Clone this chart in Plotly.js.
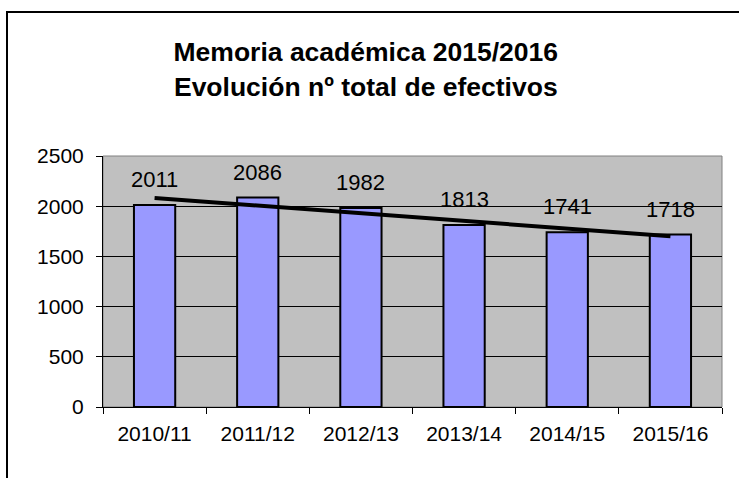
<!DOCTYPE html>
<html>
<head>
<meta charset="utf-8">
<script src="https://cdn.plot.ly/plotly-3.0.1.min.js"></script>
<style>
html,body{margin:0;padding:0;background:#fff;overflow:hidden;}
#wrap{position:relative;width:739px;height:478px;}
#frame{position:absolute;left:6px;top:11px;width:760px;height:500px;border-left:2px solid #000;border-top:2px solid #000;pointer-events:none;}
</style>
</head>
<body>
<div id="wrap">
<div id="chart" style="width:739px;height:478px;"></div>
<div id="frame"></div>
</div>
<script>
const categories = ["2010/11", "2011/12", "2012/13", "2013/14", "2014/15", "2015/16"];
const values = [2011, 2086, 1982, 1813, 1741, 1718];
const yTicks = [0, 500, 1000, 1500, 2000, 2500];

// linear trendline (least squares) over category index
const n = values.length;
const xs = values.map((_, i) => i);
const mx = xs.reduce((a, b) => a + b, 0) / n;
const my = values.reduce((a, b) => a + b, 0) / n;
let num = 0, den = 0;
xs.forEach((x, i) => { num += (x - mx) * (values[i] - my); den += (x - mx) * (x - mx); });
const slope = num / den;
const intercept = my - slope * mx;
const trend = xs.map(x => intercept + slope * x);

const FONT = "Liberation Sans, Arial, sans-serif";

const traces = [
  {
    type: "bar",
    x: categories,
    y: values,
    width: 0.4,
    marker: { color: "#9999FF", line: { color: "#000000", width: 2 } },
    hoverinfo: "x+y",
    showlegend: false
  },
  {
    type: "scatter",
    mode: "lines",
    x: categories,
    y: trend,
    line: { color: "#000000", width: 4 },
    hoverinfo: "skip",
    showlegend: false
  }
];

const annotations = categories.map((c, i) => ({
  x: c, y: values[i], xref: "x", yref: "y",
  text: String(values[i]),
  showarrow: false,
  yanchor: "bottom",
  yshift: 11,
  font: { family: FONT, size: 22, color: "#000" }
}));

const shapes = [
  { type: "rect", xref: "paper", yref: "paper", x0: 0, x1: 1, y0: 0, y1: 1, line: { color: "#808080", width: 1 }, layer: "below" }
];

const layout = {
  width: 739,
  height: 478,
  margin: { l: 103, r: 17, t: 156, b: 71 },
  paper_bgcolor: "#ffffff",
  plot_bgcolor: "#C0C0C0",
  title: {
    text: "<b>Memoria académica 2015/2016<br>Evolución nº total de efectivos</b>",
    font: { family: FONT, size: 26.5, color: "#000" },
    x: 0.495, xanchor: "center",
    y: 0.872, yanchor: "middle"
  },
  xaxis: {
    type: "category",
    tickson: "boundaries",
    ticks: "outside",
    ticklen: 6,
    tickcolor: "#000",
    showline: true,
    linecolor: "#000",
    linewidth: 1,
    showgrid: false,
    ticklabelstandoff: 8,
    tickfont: { family: FONT, size: 21, color: "#000" },
    fixedrange: true
  },
  yaxis: {
    range: [0, 2500],
    tickvals: yTicks,
    ticktext: yTicks.map(String),
    ticks: "outside",
    ticklen: 6,
    tickcolor: "#000",
    showline: true,
    linecolor: "#000",
    linewidth: 1,
    showgrid: true,
    gridcolor: "#000",
    gridwidth: 1,
    zeroline: false,
    ticklabelstandoff: 8,
    tickfont: { family: FONT, size: 21, color: "#000" },
    fixedrange: true
  },
  bargap: 0.6,
  annotations: annotations,
  shapes: shapes,
  showlegend: false
};

Plotly.newPlot("chart", traces, layout, { displayModeBar: false, staticPlot: true });
</script>
</body>
</html>
